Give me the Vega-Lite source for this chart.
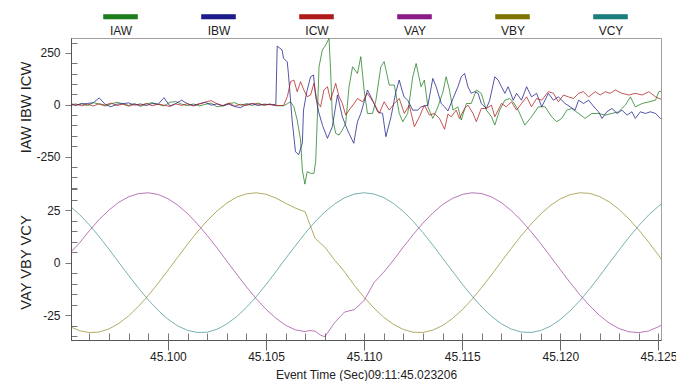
{
"$schema":"https://vega.github.io/schema/vega-lite/v6.json",
"width":590,"height":302,
"autosize":{"type":"none"},
"padding":{"left":71,"top":38,"right":15,"bottom":41},
"background":"white",
"config":{
 "view":{"stroke":"#a0a0a0","strokeWidth":1},
 "font":"Liberation Sans",
 "axis":{"labelFont":"Liberation Sans","titleFont":"Liberation Sans","labelColor":"#222","titleColor":"#222","domainColor":"#555","tickColor":"#777","labelFontSize":12,"grid":false,"titleFontWeight":"normal"}
},
"layer":[
{
 "data":{"values":[
{"t":45.095,"s":"IAW","v":8},{"t":45.0953,"s":"IAW","v":-2},{"t":45.0956,"s":"IAW","v":6},{"t":45.0959,"s":"IAW","v":-4},{"t":45.0962,"s":"IAW","v":10},{"t":45.0965,"s":"IAW","v":3},{"t":45.0968,"s":"IAW","v":-6},{"t":45.0971,"s":"IAW","v":4},{"t":45.0974,"s":"IAW","v":12},{"t":45.0977,"s":"IAW","v":5},{"t":45.098,"s":"IAW","v":-3},{"t":45.0983,"s":"IAW","v":6},{"t":45.0986,"s":"IAW","v":-8},{"t":45.0989,"s":"IAW","v":4},{"t":45.0992,"s":"IAW","v":10},{"t":45.0995,"s":"IAW","v":2},{"t":45.0998,"s":"IAW","v":-6},{"t":45.1001,"s":"IAW","v":12},{"t":45.1004,"s":"IAW","v":15},{"t":45.1007,"s":"IAW","v":3},{"t":45.101,"s":"IAW","v":-5},{"t":45.1013,"s":"IAW","v":4},{"t":45.1016,"s":"IAW","v":-6},{"t":45.1019,"s":"IAW","v":2},{"t":45.1022,"s":"IAW","v":8},{"t":45.1025,"s":"IAW","v":-10},{"t":45.1028,"s":"IAW","v":-5},{"t":45.1031,"s":"IAW","v":6},{"t":45.1034,"s":"IAW","v":10},{"t":45.1037,"s":"IAW","v":-3},{"t":45.104,"s":"IAW","v":5},{"t":45.1043,"s":"IAW","v":-4},{"t":45.1046,"s":"IAW","v":8},{"t":45.1049,"s":"IAW","v":-2},{"t":45.1052,"s":"IAW","v":4},{"t":45.1055,"s":"IAW","v":-5},
{"t":45.10589,"s":"IAW","v":-5},{"t":45.10609,"s":"IAW","v":5},{"t":45.10625,"s":"IAW","v":14},{"t":45.10642,"s":"IAW","v":-10},{"t":45.10659,"s":"IAW","v":-74},{"t":45.10676,"s":"IAW","v":-170},{"t":45.10685,"s":"IAW","v":-315},{"t":45.10698,"s":"IAW","v":-383},{"t":45.1071,"s":"IAW","v":-323},{"t":45.10727,"s":"IAW","v":-331},{"t":45.10744,"s":"IAW","v":-331},{"t":45.10753,"s":"IAW","v":-275},{"t":45.10761,"s":"IAW","v":-74},{"t":45.1077,"s":"IAW","v":183},{"t":45.10787,"s":"IAW","v":264},{"t":45.10804,"s":"IAW","v":288},{"t":45.10821,"s":"IAW","v":320},{"t":45.10829,"s":"IAW","v":167},{"t":45.10838,"s":"IAW","v":-58},{"t":45.10855,"s":"IAW","v":-138},{"t":45.10872,"s":"IAW","v":-146},{"t":45.10889,"s":"IAW","v":-122},{"t":45.10906,"s":"IAW","v":-90},{"t":45.10923,"s":"IAW","v":87},{"t":45.10941,"s":"IAW","v":183},{"t":45.10966,"s":"IAW","v":151},{"t":45.10983,"s":"IAW","v":232},{"t":45.11,"s":"IAW","v":71},{"t":45.11017,"s":"IAW","v":-42},{"t":45.11043,"s":"IAW","v":-42},{"t":45.1106,"s":"IAW","v":22},{"t":45.11085,"s":"IAW","v":183},{"t":45.11102,"s":"IAW","v":208},{"t":45.11128,"s":"IAW","v":95},{"t":45.11154,"s":"IAW","v":95},{"t":45.11179,"s":"IAW","v":-42},{"t":45.11197,"s":"IAW","v":-82},{"t":45.11222,"s":"IAW","v":-42},{"t":45.11248,"s":"IAW","v":135},{"t":45.11265,"s":"IAW","v":199},{"t":45.1129,"s":"IAW","v":87},{"t":45.11307,"s":"IAW","v":119},{"t":45.11325,"s":"IAW","v":-10},{"t":45.1135,"s":"IAW","v":-66},{"t":45.11376,"s":"IAW","v":-10},{"t":45.11401,"s":"IAW","v":60},{"t":45.11418,"s":"IAW","v":135},{"t":45.11435,"s":"IAW","v":71},{"t":45.11453,"s":"IAW","v":-26},{"t":45.11478,"s":"IAW","v":-10},{"t":45.11495,"s":"IAW","v":-74},{"t":45.11521,"s":"IAW","v":6},{"t":45.11546,"s":"IAW","v":6},{"t":45.11572,"s":"IAW","v":71},{"t":45.11597,"s":"IAW","v":55},{"t":45.11623,"s":"IAW","v":-26},{"t":45.11649,"s":"IAW","v":-58},{"t":45.11666,"s":"IAW","v":-98},{"t":45.11691,"s":"IAW","v":-26},{"t":45.11717,"s":"IAW","v":22},{"t":45.11742,"s":"IAW","v":30},{"t":45.1176,"s":"IAW","v":14},{"t":45.11785,"s":"IAW","v":-26},{"t":45.11819,"s":"IAW","v":-98},{"t":45.11853,"s":"IAW","v":-58},{"t":45.11888,"s":"IAW","v":-10},{"t":45.11922,"s":"IAW","v":-10},{"t":45.11956,"s":"IAW","v":-58},{"t":45.11981,"s":"IAW","v":-82},{"t":45.12007,"s":"IAW","v":-66},{"t":45.12033,"s":"IAW","v":-26},{"t":45.12058,"s":"IAW","v":-18},{"t":45.12093,"s":"IAW","v":-42},{"t":45.12126,"s":"IAW","v":-66},{"t":45.12161,"s":"IAW","v":-42},{"t":45.12195,"s":"IAW","v":-42},{"t":45.12229,"s":"IAW","v":-50},{"t":45.12263,"s":"IAW","v":-42},{"t":45.12297,"s":"IAW","v":-34},{"t":45.12331,"s":"IAW","v":-2},{"t":45.12357,"s":"IAW","v":38},{"t":45.12382,"s":"IAW","v":-10},{"t":45.12417,"s":"IAW","v":6},{"t":45.12451,"s":"IAW","v":14},{"t":45.12485,"s":"IAW","v":22},{"t":45.12502,"s":"IAW","v":63},{"t":45.12524,"s":"IAW","v":68},
{"t":45.095,"s":"IBW","v":2},{"t":45.0953,"s":"IBW","v":-3},{"t":45.0956,"s":"IBW","v":4},{"t":45.0959,"s":"IBW","v":6},{"t":45.0962,"s":"IBW","v":10},{"t":45.0965,"s":"IBW","v":33},{"t":45.0968,"s":"IBW","v":2},{"t":45.0971,"s":"IBW","v":-10},{"t":45.0974,"s":"IBW","v":3},{"t":45.0977,"s":"IBW","v":5},{"t":45.098,"s":"IBW","v":9},{"t":45.0983,"s":"IBW","v":-2},{"t":45.0986,"s":"IBW","v":4},{"t":45.0989,"s":"IBW","v":-4},{"t":45.0992,"s":"IBW","v":6},{"t":45.0995,"s":"IBW","v":2},{"t":45.0998,"s":"IBW","v":34},{"t":45.1001,"s":"IBW","v":-6},{"t":45.1004,"s":"IBW","v":6},{"t":45.1007,"s":"IBW","v":22},{"t":45.101,"s":"IBW","v":4},{"t":45.1013,"s":"IBW","v":-3},{"t":45.1016,"s":"IBW","v":5},{"t":45.1019,"s":"IBW","v":12},{"t":45.1022,"s":"IBW","v":-2},{"t":45.1025,"s":"IBW","v":4},{"t":45.1028,"s":"IBW","v":-6},{"t":45.1031,"s":"IBW","v":3},{"t":45.1034,"s":"IBW","v":-9},{"t":45.1037,"s":"IBW","v":-14},{"t":45.104,"s":"IBW","v":2},{"t":45.1043,"s":"IBW","v":5},{"t":45.1046,"s":"IBW","v":-4},{"t":45.1049,"s":"IBW","v":3},{"t":45.1052,"s":"IBW","v":0},{"t":45.1055,"s":"IBW","v":0},
{"t":45.10557,"s":"IBW","v":283},{"t":45.10582,"s":"IBW","v":264},{"t":45.10589,"s":"IBW","v":224},{"t":45.10608,"s":"IBW","v":208},{"t":45.10614,"s":"IBW","v":151},{"t":45.10633,"s":"IBW","v":-74},{"t":45.1065,"s":"IBW","v":-226},{"t":45.10666,"s":"IBW","v":-242},{"t":45.10685,"s":"IBW","v":-186},{"t":45.10691,"s":"IBW","v":-26},{"t":45.10707,"s":"IBW","v":60},{"t":45.10727,"s":"IBW","v":135},{"t":45.10742,"s":"IBW","v":143},{"t":45.10753,"s":"IBW","v":39},{"t":45.10768,"s":"IBW","v":-34},{"t":45.10788,"s":"IBW","v":-100},{"t":45.10813,"s":"IBW","v":-162},{"t":45.10838,"s":"IBW","v":-106},{"t":45.10864,"s":"IBW","v":47},{"t":45.10889,"s":"IBW","v":-58},{"t":45.10915,"s":"IBW","v":-122},{"t":45.10947,"s":"IBW","v":-186},{"t":45.10966,"s":"IBW","v":-82},{"t":45.10983,"s":"IBW","v":-42},{"t":45.11017,"s":"IBW","v":71},{"t":45.11043,"s":"IBW","v":22},{"t":45.11069,"s":"IBW","v":-34},{"t":45.11094,"s":"IBW","v":-42},{"t":45.11111,"s":"IBW","v":-154},{"t":45.11137,"s":"IBW","v":-58},{"t":45.11162,"s":"IBW","v":63},{"t":45.11179,"s":"IBW","v":119},{"t":45.11188,"s":"IBW","v":87},{"t":45.11203,"s":"IBW","v":39},{"t":45.11222,"s":"IBW","v":22},{"t":45.11248,"s":"IBW","v":-26},{"t":45.11273,"s":"IBW","v":-26},{"t":45.1129,"s":"IBW","v":-10},{"t":45.11325,"s":"IBW","v":-2},{"t":45.1135,"s":"IBW","v":127},{"t":45.11367,"s":"IBW","v":87},{"t":45.11393,"s":"IBW","v":6},{"t":45.1141,"s":"IBW","v":-10},{"t":45.11427,"s":"IBW","v":-30},{"t":45.11453,"s":"IBW","v":30},{"t":45.11478,"s":"IBW","v":87},{"t":45.11495,"s":"IBW","v":135},{"t":45.11512,"s":"IBW","v":151},{"t":45.11529,"s":"IBW","v":87},{"t":45.11546,"s":"IBW","v":55},{"t":45.11563,"s":"IBW","v":63},{"t":45.11581,"s":"IBW","v":55},{"t":45.11597,"s":"IBW","v":6},{"t":45.11623,"s":"IBW","v":-18},{"t":45.1164,"s":"IBW","v":22},{"t":45.11666,"s":"IBW","v":135},{"t":45.11683,"s":"IBW","v":119},{"t":45.117,"s":"IBW","v":87},{"t":45.11717,"s":"IBW","v":55},{"t":45.11734,"s":"IBW","v":87},{"t":45.1176,"s":"IBW","v":22},{"t":45.11777,"s":"IBW","v":55},{"t":45.11802,"s":"IBW","v":22},{"t":45.11828,"s":"IBW","v":87},{"t":45.11853,"s":"IBW","v":38},{"t":45.11879,"s":"IBW","v":55},{"t":45.11905,"s":"IBW","v":-10},{"t":45.11939,"s":"IBW","v":55},{"t":45.11965,"s":"IBW","v":22},{"t":45.1199,"s":"IBW","v":38},{"t":45.12024,"s":"IBW","v":6},{"t":45.1205,"s":"IBW","v":-10},{"t":45.12075,"s":"IBW","v":-26},{"t":45.12093,"s":"IBW","v":22},{"t":45.12118,"s":"IBW","v":6},{"t":45.12144,"s":"IBW","v":22},{"t":45.12178,"s":"IBW","v":-18},{"t":45.12195,"s":"IBW","v":-34},{"t":45.12212,"s":"IBW","v":-66},{"t":45.12237,"s":"IBW","v":-34},{"t":45.12263,"s":"IBW","v":-18},{"t":45.12289,"s":"IBW","v":-42},{"t":45.12314,"s":"IBW","v":-26},{"t":45.1234,"s":"IBW","v":-50},{"t":45.12365,"s":"IBW","v":-34},{"t":45.12382,"s":"IBW","v":-66},{"t":45.12408,"s":"IBW","v":-34},{"t":45.12434,"s":"IBW","v":-42},{"t":45.12459,"s":"IBW","v":-34},{"t":45.12485,"s":"IBW","v":-42},{"t":45.1251,"s":"IBW","v":-66},{"t":45.12524,"s":"IBW","v":-66},
{"t":45.095,"s":"ICW","v":-3},{"t":45.0953,"s":"ICW","v":4},{"t":45.0956,"s":"ICW","v":-5},{"t":45.0959,"s":"ICW","v":2},{"t":45.0962,"s":"ICW","v":-6},{"t":45.0965,"s":"ICW","v":5},{"t":45.0968,"s":"ICW","v":-2},{"t":45.0971,"s":"ICW","v":8},{"t":45.0974,"s":"ICW","v":-4},{"t":45.0977,"s":"ICW","v":3},{"t":45.098,"s":"ICW","v":-7},{"t":45.0983,"s":"ICW","v":2},{"t":45.0986,"s":"ICW","v":-3},{"t":45.0989,"s":"ICW","v":6},{"t":45.0992,"s":"ICW","v":-5},{"t":45.0995,"s":"ICW","v":3},{"t":45.0998,"s":"ICW","v":-2},{"t":45.1001,"s":"ICW","v":-8},{"t":45.1004,"s":"ICW","v":4},{"t":45.1007,"s":"ICW","v":-3},{"t":45.101,"s":"ICW","v":5},{"t":45.1013,"s":"ICW","v":-6},{"t":45.1016,"s":"ICW","v":3},{"t":45.1019,"s":"ICW","v":12},{"t":45.1022,"s":"ICW","v":20},{"t":45.1025,"s":"ICW","v":5},{"t":45.1028,"s":"ICW","v":-4},{"t":45.1031,"s":"ICW","v":8},{"t":45.1034,"s":"ICW","v":-6},{"t":45.1037,"s":"ICW","v":2},{"t":45.104,"s":"ICW","v":-4},{"t":45.1043,"s":"ICW","v":6},{"t":45.1046,"s":"ICW","v":3},{"t":45.1049,"s":"ICW","v":-2},{"t":45.1052,"s":"ICW","v":2},{"t":45.1055,"s":"ICW","v":-3},
{"t":45.10589,"s":"ICW","v":-4},{"t":45.10609,"s":"ICW","v":40},{"t":45.10625,"s":"ICW","v":111},{"t":45.10642,"s":"ICW","v":119},{"t":45.10659,"s":"ICW","v":63},{"t":45.10676,"s":"ICW","v":111},{"t":45.10693,"s":"ICW","v":71},{"t":45.1071,"s":"ICW","v":39},{"t":45.10727,"s":"ICW","v":47},{"t":45.10744,"s":"ICW","v":103},{"t":45.10761,"s":"ICW","v":14},{"t":45.10778,"s":"ICW","v":-10},{"t":45.10795,"s":"ICW","v":71},{"t":45.10813,"s":"ICW","v":87},{"t":45.10829,"s":"ICW","v":22},{"t":45.10855,"s":"ICW","v":103},{"t":45.10872,"s":"ICW","v":39},{"t":45.10889,"s":"ICW","v":6},{"t":45.10906,"s":"ICW","v":-50},{"t":45.10923,"s":"ICW","v":-26},{"t":45.10949,"s":"ICW","v":6},{"t":45.10966,"s":"ICW","v":30},{"t":45.10992,"s":"ICW","v":14},{"t":45.11017,"s":"ICW","v":55},{"t":45.11051,"s":"ICW","v":6},{"t":45.11077,"s":"ICW","v":-42},{"t":45.11102,"s":"ICW","v":14},{"t":45.11128,"s":"ICW","v":-26},{"t":45.11154,"s":"ICW","v":6},{"t":45.11179,"s":"ICW","v":30},{"t":45.11205,"s":"ICW","v":-42},{"t":45.1123,"s":"ICW","v":-2},{"t":45.11256,"s":"ICW","v":-106},{"t":45.11282,"s":"ICW","v":-58},{"t":45.11307,"s":"ICW","v":-2},{"t":45.11333,"s":"ICW","v":-50},{"t":45.11358,"s":"ICW","v":-42},{"t":45.11384,"s":"ICW","v":-66},{"t":45.1141,"s":"ICW","v":-118},{"t":45.11427,"s":"ICW","v":-45},{"t":45.11444,"s":"ICW","v":-58},{"t":45.11469,"s":"ICW","v":-26},{"t":45.11486,"s":"ICW","v":-66},{"t":45.11512,"s":"ICW","v":-18},{"t":45.11529,"s":"ICW","v":-2},{"t":45.11555,"s":"ICW","v":-42},{"t":45.11572,"s":"ICW","v":-82},{"t":45.11597,"s":"ICW","v":-18},{"t":45.11623,"s":"ICW","v":-18},{"t":45.11649,"s":"ICW","v":-2},{"t":45.11666,"s":"ICW","v":-58},{"t":45.117,"s":"ICW","v":6},{"t":45.11725,"s":"ICW","v":-10},{"t":45.11751,"s":"ICW","v":14},{"t":45.11777,"s":"ICW","v":-26},{"t":45.11802,"s":"ICW","v":6},{"t":45.11828,"s":"ICW","v":38},{"t":45.11853,"s":"ICW","v":-10},{"t":45.11879,"s":"ICW","v":30},{"t":45.11905,"s":"ICW","v":22},{"t":45.11939,"s":"ICW","v":63},{"t":45.11965,"s":"ICW","v":55},{"t":45.1199,"s":"ICW","v":14},{"t":45.12016,"s":"ICW","v":47},{"t":45.12041,"s":"ICW","v":38},{"t":45.12067,"s":"ICW","v":30},{"t":45.12093,"s":"ICW","v":55},{"t":45.12118,"s":"ICW","v":63},{"t":45.12144,"s":"ICW","v":38},{"t":45.12178,"s":"ICW","v":63},{"t":45.12203,"s":"ICW","v":47},{"t":45.12229,"s":"ICW","v":63},{"t":45.12254,"s":"ICW","v":55},{"t":45.1228,"s":"ICW","v":71},{"t":45.12314,"s":"ICW","v":55},{"t":45.12349,"s":"ICW","v":47},{"t":45.12382,"s":"ICW","v":55},{"t":45.12417,"s":"ICW","v":47},{"t":45.12451,"s":"ICW","v":63},{"t":45.12485,"s":"ICW","v":38},{"t":45.12524,"s":"ICW","v":22}
 ]},
 "mark":{"type":"line","strokeWidth":1,"opacity":0.75,"clip":true},
 "encoding":{
  "x":{"field":"t","type":"quantitative","scale":{"domain":[45.09506,45.12513],"nice":false,"zero":false},
   "axis":{"orient":"bottom","values":[45.1,45.105,45.11,45.115,45.12,45.125],
    "format":".3f","tickSize":10,"tickColor":"#666",
    "labelPadding":1,"labelFlush":false,"labelOverlap":false,
    "title":"Event Time (Sec)09:11:45.023206","titleFontSize":12,"titlePadding":7}},
  "y":{"field":"v","type":"quantitative","scale":{"domain":[-1135,322],"nice":false,"zero":false},
   "axis":{"orient":"left","values":[-400,-350,-300,-250,-200,-150,-100,-50,0,50,100,150,200,250,300],
    "labelExpr":"datum.value % 250 === 0 ? toString(datum.value) : ''",
    "tickSize":{"condition":{"test":"datum.value % 250 === 0","value":6},"value":-6},
    "labelPadding":5,"labelOverlap":false,
    "title":"IAW IBW ICW","titleFontSize":14.7,"titleX":-41,"titleY":69,"titleAngle":270,"titleAlign":"center","titleBaseline":"alphabetic"}},
  "color":{"field":"s","type":"nominal",
   "scale":{"domain":["IAW","IBW","ICW","VAY","VBY","VCY"],"range":["#1e7e1e","#1c1c8c","#b01c1c","#8a1c8a","#7d7500","#1c7d7d"]},
   "legend":{"orient":"none","legendX":32,"legendY":-24.6,"direction":"horizontal","columns":6,"title":null,
    "symbolType":"M-1,-0.977H1V-0.717H-1Z","symbolSize":1156,"symbolStrokeWidth":0.6,"symbolOpacity":1,
    "labelAlign":"center","labelOffset":-17,"columnPadding":61,"gridAlign":"all","padding":0,
    "labelFontSize":12,"labelFont":"Liberation Sans","labelColor":"#222","labelLimit":100,
    "encode":{"symbols":{"update":{"fill":{"scale":"color","field":"value"},"fillOpacity":{"value":1}}}}}}
 }
},
{
 "data":{"values":[
{"t":45.095,"s":"VAY","v":4.5},{"t":45.0955,"s":"VAY","v":9.5},{"t":45.096,"s":"VAY","v":15.3},{"t":45.0965,"s":"VAY","v":20.6},{"t":45.097,"s":"VAY","v":25.1},{"t":45.0975,"s":"VAY","v":28.8},{"t":45.098,"s":"VAY","v":31.4},{"t":45.0985,"s":"VAY","v":32.9},{"t":45.099,"s":"VAY","v":33.3},{"t":45.0995,"s":"VAY","v":32.5},{"t":45.1,"s":"VAY","v":30.5},{"t":45.1005,"s":"VAY","v":27.4},{"t":45.101,"s":"VAY","v":23.4},{"t":45.1015,"s":"VAY","v":18.5},{"t":45.102,"s":"VAY","v":13.0},{"t":45.1025,"s":"VAY","v":7.1},{"t":45.103,"s":"VAY","v":0.8},{"t":45.1035,"s":"VAY","v":-5.4},{"t":45.104,"s":"VAY","v":-11.5},{"t":45.1045,"s":"VAY","v":-17.1},{"t":45.105,"s":"VAY","v":-22.2},{"t":45.1055,"s":"VAY","v":-26.4},{"t":45.106,"s":"VAY","v":-29.8},{"t":45.1065,"s":"VAY","v":-32.0},{"t":45.107,"s":"VAY","v":-32.8},{"t":45.1072,"s":"VAY","v":-32.3},{"t":45.1075,"s":"VAY","v":-32.6},{"t":45.1078,"s":"VAY","v":-34.6},{"t":45.108,"s":"VAY","v":-35.2},{"t":45.1085,"s":"VAY","v":-28.5},{"t":45.109,"s":"VAY","v":-23.5},{"t":45.1095,"s":"VAY","v":-22.3},{"t":45.11,"s":"VAY","v":-18},{"t":45.1105,"s":"VAY","v":-9.5},{"t":45.111,"s":"VAY","v":-4.5},{"t":45.1115,"s":"VAY","v":1.3},{"t":45.112,"s":"VAY","v":7.5},{"t":45.1125,"s":"VAY","v":13.4},{"t":45.113,"s":"VAY","v":18.9},{"t":45.1135,"s":"VAY","v":23.7},{"t":45.114,"s":"VAY","v":27.7},{"t":45.1145,"s":"VAY","v":30.6},{"t":45.115,"s":"VAY","v":32.5},{"t":45.1155,"s":"VAY","v":33.3},{"t":45.116,"s":"VAY","v":32.9},{"t":45.1165,"s":"VAY","v":31.3},{"t":45.117,"s":"VAY","v":28.6},{"t":45.1175,"s":"VAY","v":24.8},{"t":45.118,"s":"VAY","v":20.2},{"t":45.1185,"s":"VAY","v":14.9},{"t":45.119,"s":"VAY","v":9.1},{"t":45.1195,"s":"VAY","v":2.9},{"t":45.12,"s":"VAY","v":-3.3},{"t":45.1205,"s":"VAY","v":-9.5},{"t":45.121,"s":"VAY","v":-15.3},{"t":45.1215,"s":"VAY","v":-20.6},{"t":45.122,"s":"VAY","v":-25.1},{"t":45.1225,"s":"VAY","v":-28.8},{"t":45.123,"s":"VAY","v":-31.4},{"t":45.1235,"s":"VAY","v":-32.9},{"t":45.124,"s":"VAY","v":-33.3},{"t":45.1245,"s":"VAY","v":-32.5},{"t":45.125,"s":"VAY","v":-30.5},{"t":45.1252,"s":"VAY","v":-29.4},
{"t":45.095,"s":"VBY","v":-30.4},{"t":45.0955,"s":"VBY","v":-32.4},{"t":45.096,"s":"VBY","v":-33.3},{"t":45.0965,"s":"VBY","v":-33.0},{"t":45.097,"s":"VBY","v":-31.5},{"t":45.0975,"s":"VBY","v":-28.9},{"t":45.098,"s":"VBY","v":-25.3},{"t":45.0985,"s":"VBY","v":-20.8},{"t":45.099,"s":"VBY","v":-15.6},{"t":45.0995,"s":"VBY","v":-9.8},{"t":45.1,"s":"VBY","v":-3.6},{"t":45.1005,"s":"VBY","v":2.6},{"t":45.101,"s":"VBY","v":8.8},{"t":45.1015,"s":"VBY","v":14.7},{"t":45.102,"s":"VBY","v":20.0},{"t":45.1025,"s":"VBY","v":24.6},{"t":45.103,"s":"VBY","v":28.4},{"t":45.1035,"s":"VBY","v":31.2},{"t":45.104,"s":"VBY","v":32.8},{"t":45.1045,"s":"VBY","v":33.3},{"t":45.105,"s":"VBY","v":32.6},{"t":45.1055,"s":"VBY","v":30.8},{"t":45.106,"s":"VBY","v":28.3},{"t":45.1065,"s":"VBY","v":26.0},{"t":45.107,"s":"VBY","v":24.2},{"t":45.1072,"s":"VBY","v":19.0},{"t":45.1075,"s":"VBY","v":11.6},{"t":45.108,"s":"VBY","v":7.4},{"t":45.1085,"s":"VBY","v":1.2},{"t":45.109,"s":"VBY","v":-4.3},{"t":45.1095,"s":"VBY","v":-10.8},{"t":45.11,"s":"VBY","v":-16.5},{"t":45.1105,"s":"VBY","v":-21.6},{"t":45.111,"s":"VBY","v":-26.0},{"t":45.1115,"s":"VBY","v":-29.4},{"t":45.112,"s":"VBY","v":-31.8},{"t":45.1125,"s":"VBY","v":-33.1},{"t":45.113,"s":"VBY","v":-33.2},{"t":45.1135,"s":"VBY","v":-32.1},{"t":45.114,"s":"VBY","v":-29.9},{"t":45.1145,"s":"VBY","v":-26.6},{"t":45.115,"s":"VBY","v":-22.4},{"t":45.1155,"s":"VBY","v":-17.4},{"t":45.116,"s":"VBY","v":-11.7},{"t":45.1165,"s":"VBY","v":-5.7},{"t":45.117,"s":"VBY","v":0.6},{"t":45.1175,"s":"VBY","v":6.8},{"t":45.118,"s":"VBY","v":12.8},{"t":45.1185,"s":"VBY","v":18.3},{"t":45.119,"s":"VBY","v":23.2},{"t":45.1195,"s":"VBY","v":27.3},{"t":45.12,"s":"VBY","v":30.4},{"t":45.1205,"s":"VBY","v":32.4},{"t":45.121,"s":"VBY","v":33.3},{"t":45.1215,"s":"VBY","v":33.0},{"t":45.122,"s":"VBY","v":31.5},{"t":45.1225,"s":"VBY","v":28.9},{"t":45.123,"s":"VBY","v":25.3},{"t":45.1235,"s":"VBY","v":20.8},{"t":45.124,"s":"VBY","v":15.6},{"t":45.1245,"s":"VBY","v":9.8},{"t":45.125,"s":"VBY","v":3.6},{"t":45.1252,"s":"VBY","v":1.1},
{"t":45.095,"s":"VCY","v":27.0},{"t":45.0955,"s":"VCY","v":22.9},{"t":45.096,"s":"VCY","v":18.0},{"t":45.0965,"s":"VCY","v":12.4},{"t":45.097,"s":"VCY","v":6.4},{"t":45.0975,"s":"VCY","v":0.1},{"t":45.098,"s":"VCY","v":-6.1},{"t":45.0985,"s":"VCY","v":-12.1},{"t":45.099,"s":"VCY","v":-17.7},{"t":45.0995,"s":"VCY","v":-22.7},{"t":45.1,"s":"VCY","v":-26.9},{"t":45.1005,"s":"VCY","v":-30.1},{"t":45.101,"s":"VCY","v":-32.2},{"t":45.1015,"s":"VCY","v":-33.2},{"t":45.102,"s":"VCY","v":-33.1},{"t":45.1025,"s":"VCY","v":-31.7},{"t":45.103,"s":"VCY","v":-29.2},{"t":45.1035,"s":"VCY","v":-25.7},{"t":45.104,"s":"VCY","v":-21.3},{"t":45.1045,"s":"VCY","v":-16.2},{"t":45.105,"s":"VCY","v":-10.4},{"t":45.1055,"s":"VCY","v":-4.3},{"t":45.106,"s":"VCY","v":2.0},{"t":45.1065,"s":"VCY","v":8.1},{"t":45.107,"s":"VCY","v":14.1},{"t":45.1075,"s":"VCY","v":19.5},{"t":45.108,"s":"VCY","v":24.2},{"t":45.1085,"s":"VCY","v":28.0},{"t":45.109,"s":"VCY","v":30.9},{"t":45.1095,"s":"VCY","v":32.7},{"t":45.11,"s":"VCY","v":33.3},{"t":45.1105,"s":"VCY","v":32.7},{"t":45.111,"s":"VCY","v":31.0},{"t":45.1115,"s":"VCY","v":28.2},{"t":45.112,"s":"VCY","v":24.4},{"t":45.1125,"s":"VCY","v":19.7},{"t":45.113,"s":"VCY","v":14.3},{"t":45.1135,"s":"VCY","v":8.4},{"t":45.114,"s":"VCY","v":2.2},{"t":45.1145,"s":"VCY","v":-4.0},{"t":45.115,"s":"VCY","v":-10.2},{"t":45.1155,"s":"VCY","v":-15.9},{"t":45.116,"s":"VCY","v":-21.1},{"t":45.1165,"s":"VCY","v":-25.6},{"t":45.117,"s":"VCY","v":-29.1},{"t":45.1175,"s":"VCY","v":-31.6},{"t":45.118,"s":"VCY","v":-33.0},{"t":45.1185,"s":"VCY","v":-33.2},{"t":45.119,"s":"VCY","v":-32.3},{"t":45.1195,"s":"VCY","v":-30.2},{"t":45.12,"s":"VCY","v":-27.0},{"t":45.1205,"s":"VCY","v":-22.9},{"t":45.121,"s":"VCY","v":-18.0},{"t":45.1215,"s":"VCY","v":-12.4},{"t":45.122,"s":"VCY","v":-6.4},{"t":45.1225,"s":"VCY","v":-0.1},{"t":45.123,"s":"VCY","v":6.1},{"t":45.1235,"s":"VCY","v":12.1},{"t":45.124,"s":"VCY","v":17.7},{"t":45.1245,"s":"VCY","v":22.7},{"t":45.125,"s":"VCY","v":26.9},{"t":45.1252,"s":"VCY","v":28.3}
 ]},
 "mark":{"type":"line","strokeWidth":1,"opacity":0.6,"clip":true},
 "encoding":{
  "x":{"field":"t","type":"quantitative","scale":{"domain":[45.09506,45.12513],"nice":false,"zero":false},
   "axis":{"orient":"bottom","values":[45.096,45.097,45.098,45.099,45.1,45.101,45.102,45.103,45.104,45.105,45.106,45.107,45.108,45.109,45.11,45.111,45.112,45.113,45.114,45.115,45.116,45.117,45.118,45.119,45.12,45.121,45.122,45.123,45.124,45.125],
    "labels":false,"tickSize":-7,"domain":false,"title":null}},
  "y":{"field":"v","type":"quantitative","scale":{"domain":[-36.8,107],"nice":false,"zero":false},
   "axis":{"orient":"left","values":[-35,-30,-25,-20,-15,-10,-5,0,5,10,15,20,25,30,35],
    "labelExpr":"datum.value % 25 === 0 ? toString(datum.value) : ''",
    "tickSize":{"condition":{"test":"datum.value % 25 === 0","value":6},"value":-6},
    "labelPadding":5,"labelOverlap":false,
    "title":"VAY VBY VCY","titleFontSize":14.7,"titleX":-41,"titleY":224,"titleAngle":270,"titleAlign":"center","titleBaseline":"alphabetic"}},
  "color":{"field":"s","type":"nominal"}
 }
}
],
"resolve":{"scale":{"y":"independent"},"axis":{"x":"independent"}}
}
